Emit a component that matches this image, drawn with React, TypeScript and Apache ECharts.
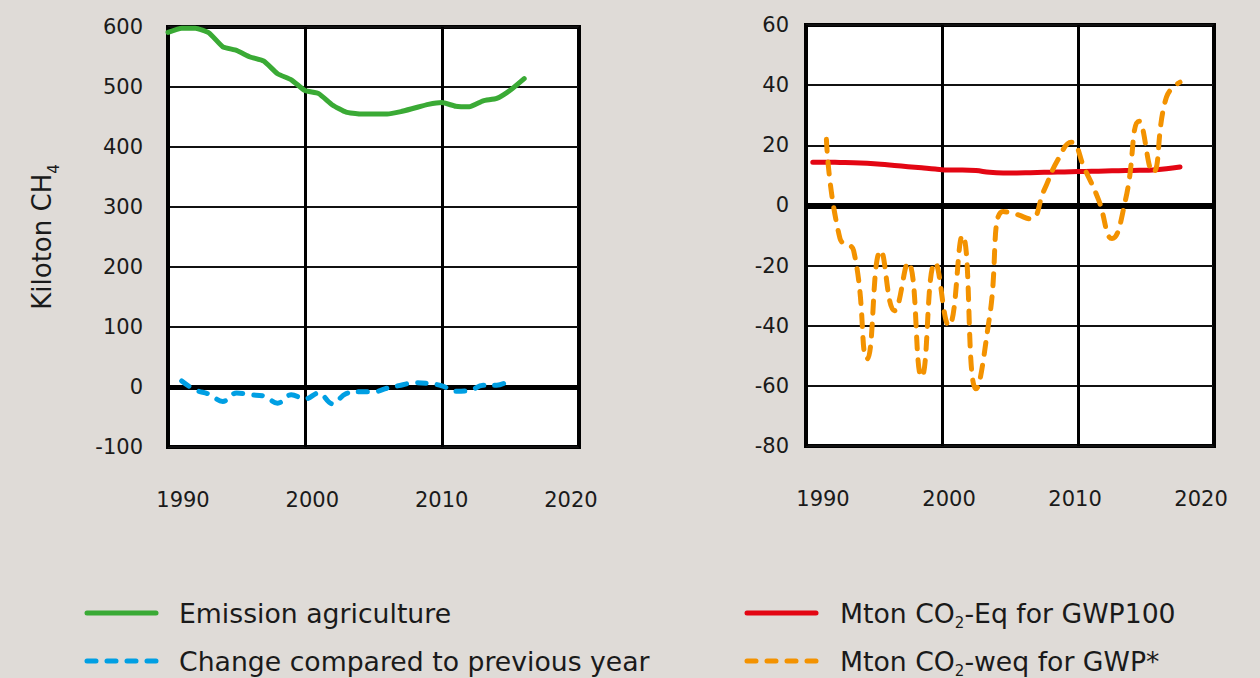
import React, { useEffect, useRef } from "react";
import * as echarts from "echarts";

// Methane emission from agriculture (kiloton CH4)
const emissionYears = [
  1990, 1991, 1992, 1993, 1994, 1995, 1996, 1997, 1998, 1999, 2000, 2001, 2002, 2003,
  2004, 2005, 2006, 2007, 2008, 2009, 2010, 2011, 2012, 2013, 2014, 2015, 2016,
];
const emissionAgriculture = [
  591, 598, 598, 590, 567, 561, 550, 543, 522, 512, 494, 489, 470, 458, 455, 455, 455,
  459, 465, 471, 474, 468, 467, 477, 481, 495, 514,
];

// Change compared to previous year (kiloton CH4)
const changeYears = [
  1991, 1992, 1993, 1994, 1995, 1996, 1997, 1998, 1999, 2000, 2001, 2002, 2003, 2004,
  2005, 2006, 2007, 2008, 2009, 2010, 2011, 2012, 2013, 2014, 2015,
];
const changePreviousYear = [
  10, -5, -12, -24, -10, -13, -15, -27, -13, -20, -10, -28, -11, -8, -8, -2, 3, 7, 6, 2,
  -7, -6, 3, 3, 12,
];

// Mton CO2-Eq for GWP100
const gwp100Years = [
  1990, 1991, 1992, 1993, 1994, 1995, 1996, 1997, 1998, 1999, 2000, 2001, 2002, 2003,
  2004, 2005, 2006, 2007, 2008, 2009, 2010, 2011, 2012, 2013, 2014, 2015, 2016, 2017,
];
const gwp100 = [
  14.4, 14.4, 14.3, 14.2, 14.0, 13.7, 13.3, 12.9, 12.5, 12.1, 11.8, 11.8, 11.6, 11.0,
  10.8, 10.8, 10.9, 11.0, 11.1, 11.2, 11.3, 11.4, 11.5, 11.6, 11.7, 11.8, 12.2, 12.8,
];

// Mton CO2-weq for GWP*
const gwpStarYears = [
  1991, 1992, 1993, 1994, 1995, 1996, 1997, 1998, 1999, 2000, 2001, 2002, 2003, 2004,
  2005, 2006, 2007, 2008, 2009, 2010, 2011, 2012, 2013, 2014, 2015, 2016, 2017,
];
const gwpStar = [
  22, -11, -15, -51, -15, -35, -19, -57, -19, -40, -10, -61, -37, -2, -3, -4.5, 5, 15,
  21, 12, 2, -11, 2, 28, 11, 36, 41,
];

// Year tick labels under both panels
const yearLabels = [1990, 2000, 2010, 2020];

// Axis ranges
const yearMin = 1990;
const yearMax = 2020;
const yearStep = 10;
const ktMin = -100;
const ktMax = 600;
const ktStep = 100;
const mtMin = -80;
const mtMax = 60;
const mtStep = 20;

const BG = "#dfdbd7";
const FONT = "DejaVu Sans";
const INK = "#1a1a1a";
const GREEN = "#3aaa35";
const BLUE = "#009fe3";
const RED = "#e30613";
const ORANGE = "#f39200";

const LEGEND_SIZE = 26.7;

const richText = {
  a: { fontSize: LEGEND_SIZE, fontFamily: FONT, fill: INK, lineHeight: 35, verticalAlign: "middle" },
  s: { fontSize: 15, fontFamily: FONT, fill: INK, lineHeight: 15, verticalAlign: "bottom" },
};

function legendLine(x: number, y: number, color: string, dashed: boolean) {
  return {
    type: "line",
    shape: { x1: x + 2, y1: y, x2: x + 71, y2: y },
    style: {
      stroke: color,
      lineWidth: 5,
      lineCap: "round",
      lineDash: dashed ? [9, 11] : null,
    },
  };
}

function legendText(x: number, y: number, text: string) {
  return {
    type: "text",
    x,
    y,
    style: {
      text,
      rich: richText,
      fill: INK,
      font: `${LEGEND_SIZE}px ${FONT}`,
      align: "left",
      verticalAlign: "middle",
    },
  };
}

// Data axis: carries the vertical grid lines, no labels of its own
function yearAxis(gridIndex: number) {
  return {
    type: "value",
    gridIndex,
    position: "top",
    min: yearMin,
    max: yearMax,
    interval: yearStep,
    axisLine: { show: false },
    axisTick: { show: false },
    axisLabel: { show: false },
    splitLine: { show: true, lineStyle: { color: "#000", width: 3 } },
  };
}

// Label axis: prints the year labels, inset slightly from the plot edges
function yearLabelAxis(gridIndex: number, min: number, max: number) {
  return {
    type: "value",
    gridIndex,
    position: "bottom",
    min,
    max,
    axisLine: { show: false },
    axisTick: { show: false },
    splitLine: { show: false },
    axisLabel: {
      customValues: yearLabels,
      formatter: (v: number) => String(v),
      fontSize: 21,
      fontFamily: FONT,
      color: INK,
      margin: 42,
    },
  };
}

function buildOption() {
  return {
    animation: false,
    backgroundColor: BG,
    textStyle: { fontFamily: FONT },
    grid: [
      {
        left: 168,
        top: 27,
        width: 411,
        height: 420,
        show: true,
        backgroundColor: "#fff",
        borderColor: "#000",
        borderWidth: 4,
      },
      {
        left: 806,
        top: 25,
        width: 408,
        height: 421,
        show: true,
        backgroundColor: "#fff",
        borderColor: "#000",
        borderWidth: 4,
      },
    ],
    xAxis: [
      yearAxis(0),
      yearAxis(1),
      yearLabelAxis(0, 1988.84, 2020.62),
      yearLabelAxis(1, 1988.65, 2021.03),
    ],
    yAxis: [
      {
        type: "value",
        gridIndex: 0,
        min: ktMin,
        max: ktMax,
        interval: ktStep,
        name: "{a|Kiloton CH}{s|4}",
        nameLocation: "middle",
        nameRotate: 90,
        nameGap: 107,
        nameTextStyle: {
          rich: {
            a: { fontSize: 26, fontFamily: FONT, color: INK, lineHeight: 38, verticalAlign: "middle" },
            s: { fontSize: 15, fontFamily: FONT, color: INK, lineHeight: 15, verticalAlign: "bottom" },
          },
        },
        axisLine: { show: false },
        axisTick: { show: false },
        splitLine: { show: true, lineStyle: { color: "#111", width: 2 } },
        axisLabel: {
          fontSize: 21,
          fontFamily: FONT,
          color: INK,
          margin: 25,
          padding: [0, 0, 9, 0],
        },
      },
      {
        type: "value",
        gridIndex: 1,
        min: mtMin,
        max: mtMax,
        interval: mtStep,
        axisLine: { show: false },
        axisTick: { show: false },
        splitLine: { show: true, lineStyle: { color: "#111", width: 2 } },
        axisLabel: {
          fontSize: 21,
          fontFamily: FONT,
          color: INK,
          margin: 17,
          padding: [0, 0, 6, 0],
        },
      },
    ],
    series: [
      {
        name: "Emission agriculture",
        type: "line",
        xAxisIndex: 0,
        yAxisIndex: 0,
        data: emissionYears.map((y, i) => [y, emissionAgriculture[i]]),
        symbol: "none",
        smooth: 0.15,
        lineStyle: { color: GREEN, width: 5, cap: "round", join: "round" },
        z: 3,
        markLine: {
          silent: true,
          z: 1,
          symbol: ["none", "none"],
          label: { show: false },
          lineStyle: { color: "#000", width: 5, type: "solid" },
          data: [{ yAxis: 0 }],
        },
      },
      {
        name: "Change compared to previous year",
        type: "line",
        xAxisIndex: 0,
        yAxisIndex: 0,
        data: changeYears.map((y, i) => [y, changePreviousYear[i]]),
        symbol: "none",
        smooth: 0.4,
        lineStyle: { color: BLUE, width: 5, type: [9, 11], cap: "round", join: "round" },
        z: 3,
      },
      {
        name: "Mton CO2-Eq for GWP100",
        type: "line",
        xAxisIndex: 1,
        yAxisIndex: 1,
        // annual values are plotted at mid-year
        data: gwp100Years.map((y, i) => [y + 0.5, gwp100[i]]),
        symbol: "none",
        smooth: 0.4,
        lineStyle: { color: RED, width: 5, cap: "round", join: "round" },
        z: 3,
        markLine: {
          silent: true,
          z: 1,
          symbol: ["none", "none"],
          label: { show: false },
          lineStyle: { color: "#000", width: 6, type: "solid" },
          data: [{ yAxis: 0 }],
        },
      },
      {
        name: "Mton CO2-weq for GWP*",
        type: "line",
        xAxisIndex: 1,
        yAxisIndex: 1,
        data: gwpStarYears.map((y, i) => [y + 0.5, gwpStar[i]]),
        symbol: "none",
        smooth: 0.5,
        lineStyle: { color: ORANGE, width: 5, type: [12, 11], cap: "round", join: "round" },
        z: 4,
      },
    ],
    graphic: [
      legendLine(85, 613, GREEN, false),
      legendText(179, 613, "{a|Emission agriculture}"),
      legendLine(85, 661, BLUE, true),
      legendText(179, 661, "{a|Change compared to previous year}"),
      legendLine(745, 613, RED, false),
      legendText(840, 613, "{a|Mton CO}{s|2}{a|-Eq for GWP100}"),
      legendLine(745, 661, ORANGE, true),
      legendText(840, 661, "{a|Mton CO}{s|2}{a|-weq for GWP*}"),
    ],
  };
}

export default function App() {
  const ref = useRef<HTMLDivElement>(null);

  useEffect(() => {
    if (!ref.current) return;
    const chart = echarts.init(ref.current, undefined, { renderer: "svg" });
    chart.setOption(buildOption() as any);
    return () => chart.dispose();
  }, []);

  return (
    <div
      ref={ref}
      style={{
        position: "absolute",
        left: 0,
        top: 0,
        width: 1260,
        height: 678,
        background: BG,
      }}
    />
  );
}
